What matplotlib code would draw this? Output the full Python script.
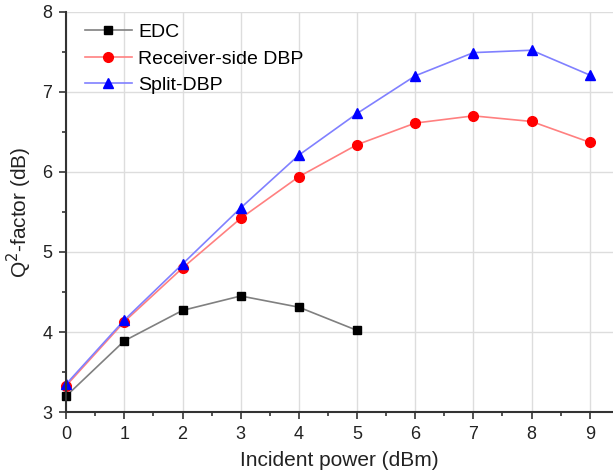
import numpy as np
import matplotlib.pyplot as plt
from matplotlib.ticker import MultipleLocator

plt.rcParams['font.family'] = ['Liberation Sans', 'DejaVu Sans']

# Data
power_edc = [0, 1, 2, 3, 4, 5]
q_edc = [3.20, 3.89, 4.27, 4.45, 4.31, 4.02]

power_dbp = [0, 1, 2, 3, 4, 5, 6, 7, 8, 9]
q_rx_dbp = [3.33, 4.13, 4.80, 5.42, 5.94, 6.34, 6.61, 6.70, 6.63, 6.37]
q_split_dbp = [3.35, 4.15, 4.85, 5.55, 6.21, 6.73, 7.20, 7.49, 7.52, 7.21]

# Figure and axis
fig = plt.figure(figsize=(6.13, 4.72), dpi=100)
ax = fig.add_axes([0.108, 0.127, 0.892, 0.848])

ax.plot(power_edc, q_edc, '-', color='#808080', lw=1.2, marker='s', ms=6,
        mfc='black', mec='black', label='EDC', clip_on=False)
ax.plot(power_dbp, q_rx_dbp, '-', color='#ff8080', lw=1.2, marker='o', ms=7,
        mfc='red', mec='red', label='Receiver-side DBP', clip_on=False)
ax.plot(power_dbp, q_split_dbp, '-', color='#8080ff', lw=1.2, marker='^', ms=7.5,
        mfc='blue', mec='blue', label='Split-DBP', clip_on=False)

ax.set_xlim(0, 9.4)
ax.set_ylim(3, 8)
ax.xaxis.set_major_locator(MultipleLocator(1))
ax.xaxis.set_minor_locator(MultipleLocator(0.5))
ax.yaxis.set_major_locator(MultipleLocator(1))
ax.yaxis.set_minor_locator(MultipleLocator(0.5))
ax.tick_params(which='major', direction='out', length=5, width=1.2, labelsize=13,
               colors='#333333', labelcolor='#222222', pad=5)
ax.tick_params(which='minor', direction='out', length=3, width=1.2, colors='#333333')

for side in ['top', 'right']:
    ax.spines[side].set_visible(False)
for side in ['left', 'bottom']:
    ax.spines[side].set_linewidth(1.5)
    ax.spines[side].set_color('#333333')

ax.grid(which='major', color='#dddddd', lw=1)
ax.set_axisbelow(True)

ax.set_xlabel('Incident power (dBm)', fontsize=15, labelpad=6, color='#222222')
ax.set_ylabel('Q$^2$-factor (dB)', fontsize=15, labelpad=6, color='#222222')

ax.legend(loc='upper left', frameon=False, fontsize=14, handlelength=2.4,
          borderaxespad=0.0, labelspacing=0.45, handletextpad=0.35,
          bbox_to_anchor=(0.02, 0.99))

fig.savefig('out.png', dpi=100)
